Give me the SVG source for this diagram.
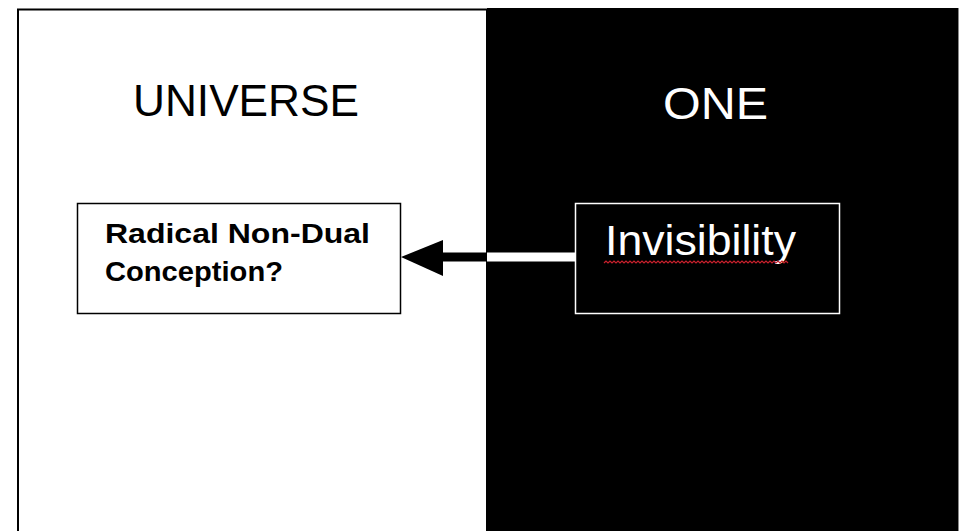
<svg xmlns="http://www.w3.org/2000/svg" width="965" height="531" viewBox="0 0 965 531">
<style>
.title{font-family:"Liberation Sans",Arial,sans-serif;font-size:45px;}
.lbl{font-family:"Liberation Sans",Arial,sans-serif;font-weight:bold;font-size:28px;fill:#000;}
.inv{font-family:"Liberation Sans",Arial,sans-serif;font-size:43px;fill:#fff;}
</style>
<rect x="0" y="0" width="965" height="531" fill="#fff"/>
<g id="universe-panel">
<rect x="18" y="9.5" width="469" height="530" fill="#fff" stroke="#000" stroke-width="2"/>
<text class="title" x="133" y="116" textLength="226" lengthAdjust="spacingAndGlyphs" fill="#000">UNIVERSE</text>
</g>
<g id="one-panel">
<rect x="487" y="8" width="471" height="523" fill="#000"/>
<line x1="958.5" y1="8" x2="958.5" y2="531" stroke="#888" stroke-width="1"/>
<text class="title" x="663" y="119" textLength="105" lengthAdjust="spacingAndGlyphs" fill="#fff">ONE</text>
</g>
<g id="radical-node">
<rect x="77.5" y="203.5" width="323" height="110" fill="#fff" stroke="#000" stroke-width="1.5"/>
<text class="lbl" x="105" y="243" textLength="265" lengthAdjust="spacingAndGlyphs">Radical Non-Dual</text>
<text class="lbl" x="105" y="281" textLength="178" lengthAdjust="spacingAndGlyphs">Conception?</text>
</g>
<g id="invisibility-node">
<rect x="575.5" y="203.5" width="264" height="110" fill="#000" stroke="#fff" stroke-width="1.5"/>
<text class="inv" x="605" y="255" textLength="191" lengthAdjust="spacingAndGlyphs">Invisibility</text>
<path d="M604 263 l2 -2 l2 2 l2 -2 l2 2 l2 -2 l2 2 l2 -2 l2 2 l2 -2 l2 2 l2 -2 l2 2 l2 -2 l2 2 l2 -2 l2 2 l2 -2 l2 2 l2 -2 l2 2 l2 -2 l2 2 l2 -2 l2 2 l2 -2 l2 2 l2 -2 l2 2 l2 -2 l2 2 l2 -2 l2 2 l2 -2 l2 2 l2 -2 l2 2 l2 -2 l2 2 l2 -2 l2 2 l2 -2 l2 2 l2 -2 l2 2 l2 -2 l2 2 l2 -2 l2 2 l2 -2 l2 2 l2 -2 l2 2 l2 -2 l2 2 l2 -2 l2 2 l2 -2 l2 2 l2 -2 l2 2 l2 -2 l2 2 l2 -2 l2 2 l2 -2 l2 2 l2 -2 l2 2 l2 -2 l2 2 l2 -2 l2 2 l2 -2 l2 2 l2 -2 l2 2 l2 -2 l2 2 l2 -2 l2 2 l2 -2 l2 2 l2 -2 l2 2 l2 -2 l2 2 l2 -2 l2 2 l2 -2 l2 2 l2 -2 l2 2" fill="none" stroke="#c8202c" stroke-width="1.2"/>
</g>
<g id="connectors">
<rect x="487" y="252.5" width="88" height="9" fill="#fff"/>
<rect x="440" y="252.5" width="47" height="9" fill="#000"/>
<polygon points="401,257 443,240 443,276" fill="#000"/>
</g>
</svg>
